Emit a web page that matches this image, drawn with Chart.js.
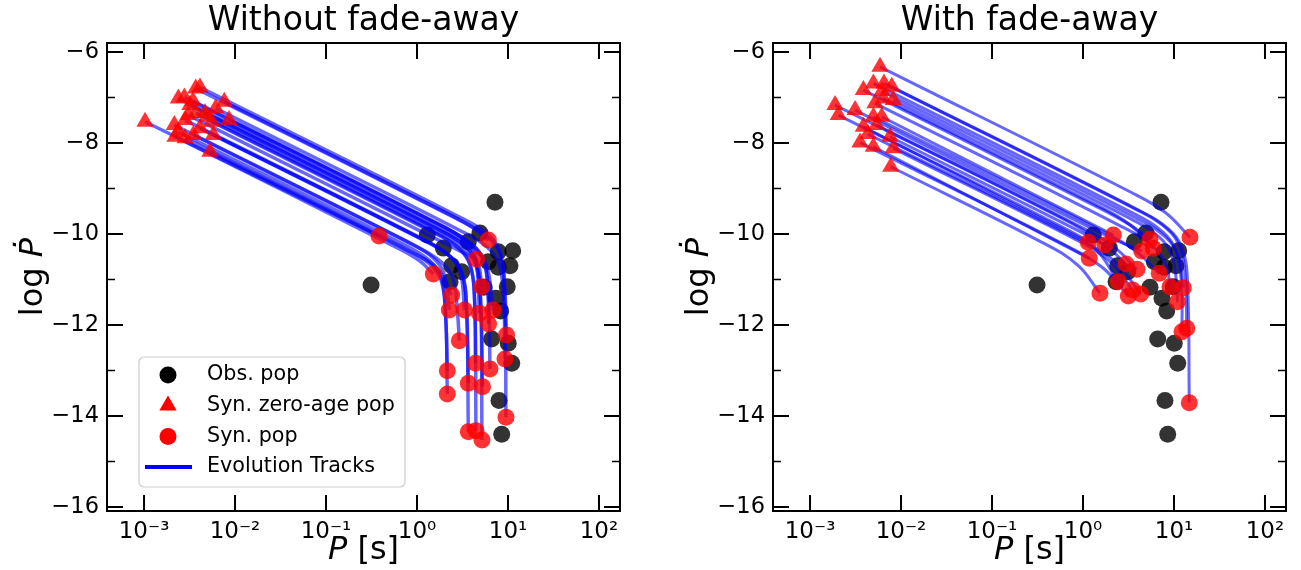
<!DOCTYPE html>
<html>
<head>
<meta charset="utf-8">
<script src="https://cdn.jsdelivr.net/npm/chart.js@4.4.1/dist/chart.umd.min.js"></script>
<style>
  html, body { margin: 0; padding: 0; background: #fff; }
  #wrap { position: relative; width: 1301px; height: 570px; }
  canvas { position: absolute; top: 0; }
  #left { left: 0; }
  #right { left: 666px; }
</style>
</head>
<body>
<div id="wrap">
  <canvas id="left" width="635" height="570"></canvas>
  <canvas id="right" width="635" height="570"></canvas>
</div>
<script>
// everything in log10 units: [log P (s), log Pdot]

// observed population (same in both panels)
const obsLogP = [0.857, 0.113, 0.289, 0.564, 0.692, 0.893, 1.052, 0.381, 0.491, 0.784, 0.893, 1.022,
  0.363, 0.992, 0.868, 0.920, 0.821, 1.003, 1.041, 0.901, 0.931, -0.505, 0.736];
const obsLogPdot = [-9.30, -10.02, -10.31, -10.17, -9.98, -10.39, -10.37, -10.70, -10.83, -10.61, -10.73, -10.70,
  -11.05, -11.16, -11.41, -11.69, -12.31, -12.40, -12.84, -13.66, -14.40, -11.12, -11.17];

// evolution tracks, first point = zero-age pop, last point = syn. pop
const tracksNoFade = [
  [[-2.385, -6.776], [0.484, -9.644], [0.780, -10.007], [0.912, -10.380], [0.962, -11.127], [0.984, -12.220]],
  [[-2.432, -6.798], [0.484, -9.713], [0.780, -10.076], [0.912, -10.449], [0.962, -11.197], [0.978, -14.029]],
  [[-2.118, -7.092], [0.363, -9.573], [0.637, -9.890], [0.784, -10.132]],
  [[-2.212, -7.237], [0.473, -9.922], [0.769, -10.285], [0.901, -10.658], [0.951, -11.405], [0.967, -12.747]],
  [[-2.557, -6.996], [0.308, -9.860], [0.604, -10.223], [0.736, -10.597], [0.786, -11.344], [0.802, -12.967]],
  [[-2.066, -7.495], [0.308, -9.868], [0.604, -10.231], [0.736, -10.604], [0.780, -11.352], [0.786, -11.978]],
  [[-2.623, -7.018], [0.341, -9.981], [0.637, -10.344], [0.769, -10.718], [0.835, -11.670]],
  [[-2.495, -7.165], [0.220, -9.879], [0.516, -10.242], [0.648, -10.615], [0.698, -11.363], [0.714, -14.527]],
  [[-2.311, -7.422], [0.220, -9.953], [0.516, -10.315], [0.648, -10.689], [0.698, -11.436], [0.720, -13.356]],
  [[-2.330, -7.341], [0.242, -9.912], [0.538, -10.275], [0.670, -10.648], [0.711, -11.158]],
  [[-2.256, -7.532], [0.154, -9.942], [0.451, -10.304], [0.582, -10.678], [0.632, -11.425], [0.648, -14.323]],
  [[-2.429, -7.341], [0.154, -9.923], [0.451, -10.286], [0.582, -10.659], [0.632, -11.407], [0.643, -12.842]],
  [[-2.513, -7.385], [0.253, -10.151], [0.656, -10.556]],
  [[-2.385, -7.677], [0.066, -10.127], [0.363, -10.490], [0.495, -10.864], [0.544, -11.611], [0.564, -14.345]],
  [[-2.238, -7.824], [0.066, -10.128], [0.363, -10.491], [0.495, -10.865], [0.544, -11.612], [0.564, -13.281]],
  [[-2.549, -7.495], [0.044, -10.088], [0.341, -10.451], [0.473, -10.824], [0.522, -11.670]],
  [[-2.667, -7.604], [-0.132, -10.140], [0.165, -10.502], [0.297, -10.876], [0.355, -11.670]],
  [[-2.458, -7.824], [-0.033, -10.249], [0.264, -10.612], [0.396, -10.986], [0.445, -11.733], [0.465, -12.345]],
  [[-2.623, -7.752], [-0.165, -10.210], [0.132, -10.573], [0.264, -10.946], [0.313, -11.693], [0.333, -13.516]],
  [[-2.549, -7.897], [-0.165, -10.281], [0.132, -10.644], [0.264, -11.018], [0.313, -11.765], [0.333, -13.005]],
  [[-2.275, -8.191], [-0.077, -10.389], [0.220, -10.752], [0.381, -11.341]],
  [[-2.659, -7.862], [-0.187, -10.334], [0.033, -10.598], [0.179, -10.879]],
  [[-2.989, -7.532], [-0.418, -10.044]],
  [[-2.462, -7.077], [0.209, -9.747], [0.505, -10.110], [0.637, -10.484], [0.687, -11.743]]
];

const tracksFade = [
  [[-2.231, -6.323], [0.516, -9.070], [0.901, -9.521], [1.176, -10.073]],
  [[-2.102, -6.763], [0.615, -9.480], [0.945, -9.898], [1.088, -10.304], [1.148, -11.019], [1.168, -13.708]],
  [[-2.187, -6.688], [0.593, -9.468], [0.923, -9.886], [1.066, -10.292], [1.126, -11.007], [1.140, -12.073]],
  [[-2.304, -6.688], [0.549, -9.542], [0.879, -9.959], [1.022, -10.366], [1.082, -11.080], [1.088, -12.147]],
  [[-2.209, -6.857], [0.571, -9.637], [0.901, -10.055], [1.044, -10.462], [1.102, -11.180]],
  [[-2.085, -7.055], [0.505, -9.645], [0.835, -10.063], [0.978, -10.469], [1.027, -11.063], [1.038, -11.488]],
  [[-2.195, -7.018], [0.132, -9.344], [0.516, -9.795], [0.773, -10.314]],
  [[-2.414, -6.835], [0.187, -9.436], [0.516, -9.799], [0.736, -10.116]],
  [[-2.286, -7.127], [0.440, -9.853], [0.769, -10.270], [0.912, -10.677], [0.956, -11.158]],
  [[-2.212, -7.422], [0.333, -10.022]],
  [[-2.304, -7.422], [0.187, -9.913], [0.571, -10.364], [0.838, -10.864]],
  [[-2.505, -7.275], [0.297, -10.077], [0.645, -10.374]],
  [[-2.267, -7.604], [-0.033, -9.838], [0.330, -10.267], [0.593, -10.776]],
  [[-2.725, -7.165], [-0.143, -9.747], [0.242, -10.242]],
  [[-2.121, -7.862], [0.022, -10.004], [0.275, -10.301], [0.473, -10.659]],
  [[-2.414, -7.642], [0.058, -10.182]],
  [[-2.689, -7.385], [-0.253, -9.821], [0.132, -10.315], [0.388, -11.048]],
  [[-2.085, -8.116], [-0.088, -10.113], [0.275, -10.564], [0.546, -11.231]],
  [[-2.363, -7.802], [0.022, -10.187], [0.352, -10.604], [0.634, -11.319]],
  [[-2.304, -8.081], [0.069, -10.534]],
  [[-2.451, -7.989], [-0.143, -10.297], [0.220, -10.747], [0.498, -11.363]],
  [[-2.113, -8.521], [-0.418, -10.217], [-0.055, -10.689], [0.187, -11.303]]
];

const xTickExp = [-3, -2, -1, 0, 1, 2];
const yMajor = [-16, -14, -12, -10, -8, -6];
const yMinor = [-15, -13, -11, -9, -7];
const xRange = [-3.407, 2.231];
const yRange = [-16.09, -5.8];

const FONT = '"DejaVu Sans", sans-serif';
const SUP = { '-': '\u207B', '0': '\u2070', '1': '\u00B9', '2': '\u00B2', '3': '\u00B3' };

function toXY(pts) {
  return pts.map(p => ({ x: 10 ** p[0], y: p[1] }));
}

// matplotlib-style frame with inward ticks, axis labels and legend
const frame = {
  id: 'frame',
  afterDraw(chart, args, opts) {
    const { ctx, chartArea: a } = chart;
    const x = chart.scales.x, y = chart.scales.y;
    ctx.save();
    ctx.strokeStyle = '#000';
    ctx.lineWidth = 2;
    ctx.strokeRect(a.left, a.top, a.right - a.left, a.bottom - a.top);

    ctx.beginPath();
    xTickExp.forEach(e => {
      const px = x.getPixelForValue(10 ** e);
      ctx.moveTo(px, a.bottom); ctx.lineTo(px, a.bottom - 16);
      ctx.moveTo(px, a.top); ctx.lineTo(px, a.top + 16);
    });
    yMajor.forEach(v => {
      const py = y.getPixelForValue(v);
      ctx.moveTo(a.left, py); ctx.lineTo(a.left + 16, py);
      ctx.moveTo(a.right, py); ctx.lineTo(a.right - 16, py);
    });
    ctx.stroke();
    ctx.lineWidth = 1.5;
    ctx.beginPath();
    yMinor.forEach(v => {
      const py = y.getPixelForValue(v);
      ctx.moveTo(a.left, py); ctx.lineTo(a.left + 8, py);
      ctx.moveTo(a.right, py); ctx.lineTo(a.right - 8, py);
    });
    ctx.stroke();

    // axis titles
    const normal = '32px ' + FONT, italic = 'italic 32px ' + FONT;
    ctx.fillStyle = '#000';
    ctx.textBaseline = 'alphabetic';
    ctx.textAlign = 'left';
    ctx.font = italic; const wP = ctx.measureText('P').width;
    ctx.font = normal; const wS = ctx.measureText(' [s]').width;
    let x0 = (a.left + a.right) / 2 - (wP + wS) / 2;
    ctx.font = italic; ctx.fillText('P', x0, 559);
    ctx.font = normal; ctx.fillText(' [s]', x0 + wP, 559);

    ctx.save();
    ctx.translate(42, (a.top + a.bottom) / 2);
    ctx.rotate(-Math.PI / 2);
    ctx.font = normal; const wL = ctx.measureText('log ').width;
    ctx.font = italic; const wD = ctx.measureText('\u1E56').width;
    x0 = -(wL + wD) / 2;
    ctx.font = normal; ctx.fillText('log ', x0, 0);
    ctx.font = italic; ctx.fillText('\u1E56', x0 + wL, 0);
    ctx.restore();

    if (opts.legend) {
      const bx = a.left + 32, by = a.bottom - 154, bw = 266, bh = 130;
      ctx.beginPath();
      ctx.roundRect(bx, by, bw, bh, 5);
      ctx.fillStyle = 'rgba(255,255,255,0.8)';
      ctx.fill();
      ctx.strokeStyle = '#cccccc';
      ctx.lineWidth = 1.2;
      ctx.stroke();

      const mx = bx + 29, tx = bx + 68;
      const rows = [by + 18, by + 48.5, by + 79.5, by + 110];
      // Obs. pop
      ctx.fillStyle = '#000';
      ctx.beginPath(); ctx.arc(mx, rows[0], 8.5, 0, 2 * Math.PI); ctx.fill();
      // Syn. zero-age pop
      ctx.fillStyle = '#ff0000';
      ctx.beginPath();
      ctx.moveTo(mx, rows[1] - 10);
      ctx.lineTo(mx + 8.66, rows[1] + 5);
      ctx.lineTo(mx - 8.66, rows[1] + 5);
      ctx.closePath(); ctx.fill();
      // Syn. pop
      ctx.beginPath(); ctx.arc(mx, rows[2], 8.5, 0, 2 * Math.PI); ctx.fill();
      // Evolution Tracks
      ctx.strokeStyle = '#0000ff';
      ctx.lineWidth = 4;
      ctx.beginPath(); ctx.moveTo(mx - 23, rows[3]); ctx.lineTo(mx + 24, rows[3]); ctx.stroke();

      ctx.fillStyle = '#000';
      ctx.font = '20.7px ' + FONT;
      ctx.textBaseline = 'middle';
      ['Obs. pop', 'Syn. zero-age pop', 'Syn. pop', 'Evolution Tracks'].forEach((t, i) => ctx.fillText(t, tx, rows[i]));
    }
    ctx.restore();
  }
};

function makeChart(id, title, tracks, lineWidth, legend) {
  const datasets = [];
  datasets.push({
    label: 'Syn. pop', data: toXY(tracks.map(t => t[t.length - 1])),
    pointStyle: 'circle', pointRadius: 8.5, pointBackgroundColor: 'rgba(255,0,0,0.8)',
    pointBorderWidth: 0, pointBorderColor: 'rgba(0,0,0,0)', order: 0
  });
  datasets.push({
    label: 'Syn. zero-age pop', data: toXY(tracks.map(t => t[0])),
    pointStyle: 'triangle', pointRadius: 10, pointBackgroundColor: 'rgba(255,0,0,0.8)',
    pointBorderWidth: 0, pointBorderColor: 'rgba(0,0,0,0)', order: 1
  });
  tracks.forEach(t => datasets.push({
    label: 'Evolution Tracks', data: toXY(t), showLine: true,
    borderColor: 'rgba(0,0,255,0.6)', borderWidth: lineWidth, pointRadius: 0,
    tension: 0.4, order: 2
  }));
  datasets.push({
    label: 'Obs. pop', data: obsLogP.map((p, i) => ({ x: 10 ** p, y: obsLogPdot[i] })),
    pointStyle: 'circle', pointRadius: 8.5, pointBackgroundColor: 'rgba(0,0,0,0.8)',
    pointBorderWidth: 0, pointBorderColor: 'rgba(0,0,0,0)', order: 3
  });

  return new Chart(document.getElementById(id), {
    type: 'scatter',
    data: { datasets },
    options: {
      responsive: false,
      animation: false,
      devicePixelRatio: 1,
      layout: { padding: { left: 0, right: 15, top: 0, bottom: 0 } },
      plugins: {
        legend: { display: false },
        tooltip: { enabled: false },
        title: {
          display: true, text: title, fullSize: false, color: '#000',
          font: { family: FONT, size: 33, weight: 'normal', lineHeight: 1.1 },
          padding: { top: 3, bottom: 3.7 }
        },
        frame: { legend }
      },
      scales: {
        x: {
          type: 'logarithmic', position: 'bottom',
          min: 10 ** xRange[0], max: 10 ** xRange[1],
          afterBuildTicks: s => { s.ticks = xTickExp.map(e => ({ value: 10 ** e })); },
          afterFit: s => { s.height = 59; },
          grid: { display: false, drawTicks: false },
          border: { display: false },
          ticks: {
            color: '#000', font: { family: FONT, size: 23 }, padding: 7,
            maxRotation: 0, autoSkip: false,
            callback: v => '10' + String(Math.round(Math.log10(v))).split('').map(c => SUP[c]).join('')
          }
        },
        y: {
          type: 'linear', position: 'left',
          min: yRange[0], max: yRange[1],
          afterBuildTicks: s => { s.ticks = yMajor.map(v => ({ value: v })); },
          afterFit: s => { s.width = 107; },
          grid: { display: false, drawTicks: false },
          border: { display: false },
          ticks: {
            color: '#000', font: { family: FONT, size: 22.5 }, padding: 8,
            callback: v => '\u2212' + Math.abs(v)
          }
        }
      }
    },
    plugins: [frame]
  });
}

makeChart('left', 'Without fade-away', tracksNoFade, 3.5, true);
makeChart('right', 'With fade-away', tracksFade, 3, false);
</script>
</body>
</html>
